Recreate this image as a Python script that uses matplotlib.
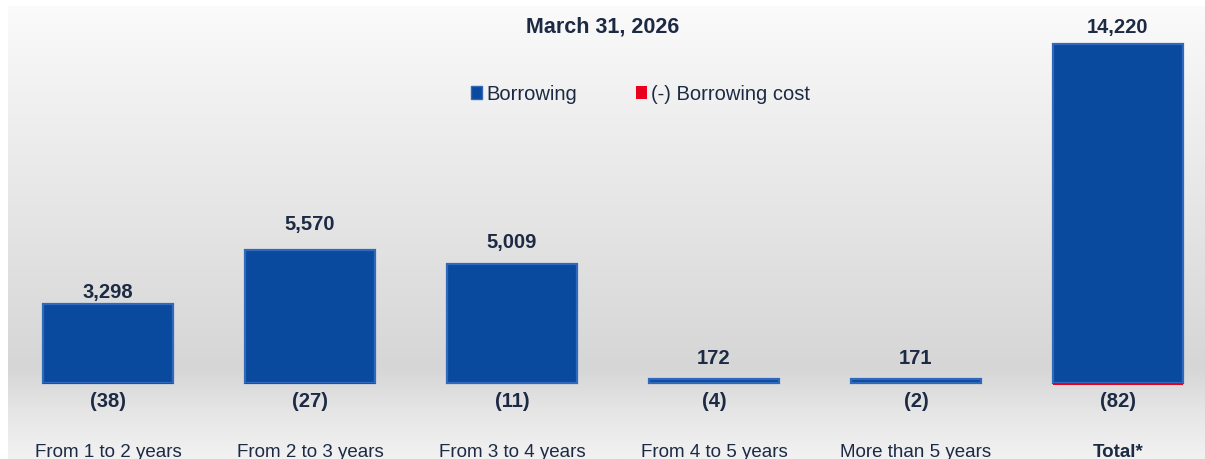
import numpy as np
import matplotlib.pyplot as plt
from matplotlib.colors import LinearSegmentedColormap
from matplotlib.patches import Patch

# data
categories = ["From 1 to 2 years", "From 2 to 3 years", "From 3 to 4 years",
              "From 4 to 5 years", "More than 5 years", "Total*"]
borrowing = [3298, 5570, 5009, 172, 171, 14220]
borrowing_cost = [-38, -27, -11, -4, -2, -82]
title = "March 31, 2026"

# label gaps above bars (points), as placed in the original
label_pad = [1.5, 11.6, 8.7, 8.0, 8.0, 5.1]

navy = "#1c2a44"
blue = "#0a4a9e"
red = "#e8001c"

plt.rcParams['font.family'] = ['Liberation Sans', 'DejaVu Sans']
fig = plt.figure(figsize=(12.05, 4.59), dpi=100)

# background gradient panel
bg = fig.add_axes([0.0066, 0, 0.9934, 0.987])
bg.set_axis_off()
cmap = LinearSegmentedColormap.from_list(
    "bg", [(0.0, "#fbfbfb"), (0.15, "#f3f3f3"), (0.80, "#d6d6d6"),
           (0.90, "#e6e6e6"), (1.0, "#f2f2f2")])
grad = np.linspace(0, 1, 256).reshape(-1, 1)
bg.imshow(grad, aspect="auto", cmap=cmap, extent=[0, 1, 0, 1], origin="upper")

ax = fig.add_axes([0, 0, 1, 1])
ax.patch.set_alpha(0)
ax.set_axis_off()
x = np.arange(len(categories))
ax.bar(x, borrowing, width=0.64, color=blue, edgecolor="#3068bb", linewidth=1.6,
       label="Borrowing", zorder=2)
ax.bar(x, borrowing_cost, width=0.64, color=red, linewidth=0,
       label="(-) Borrowing cost", zorder=2)
ax.set_xlim(-0.535, 5.431)
ax.set_ylim(-3188, 16066)

for i in range(len(categories)):
    ax.annotate(f"{borrowing[i]:,}", (x[i], borrowing[i]), xytext=(0, label_pad[i]),
                textcoords="offset points", ha="center", va="bottom",
                fontsize=14.5, fontweight="bold", color=navy)
    ax.annotate(f"({-borrowing_cost[i]})", (x[i], 0), xytext=(0, -6.5),
                textcoords="offset points", ha="center", va="top",
                fontsize=14.5, fontweight="bold", color=navy)
    ax.text(x[i], -2900, categories[i], ha="center", va="center", fontsize=13.5,
            color=navy, fontweight="bold" if i == len(categories) - 1 else "normal")

fig.text(0.5, 0.941, title, ha="center", va="center", fontsize=15.5,
         fontweight="bold", color=navy)

handles = [Patch(facecolor=blue, edgecolor="#3068bb"), Patch(facecolor=red)]
ax.legend(handles, ["Borrowing", "(-) Borrowing cost"], loc="center",
          bbox_to_anchor=(0.5315, 0.795), ncol=2, frameon=False, fontsize=14.5,
          handlelength=0.55, handleheight=0.55, handletextpad=0.2,
          columnspacing=2.9, labelcolor=navy)

plt.savefig("out.png", dpi=100)
